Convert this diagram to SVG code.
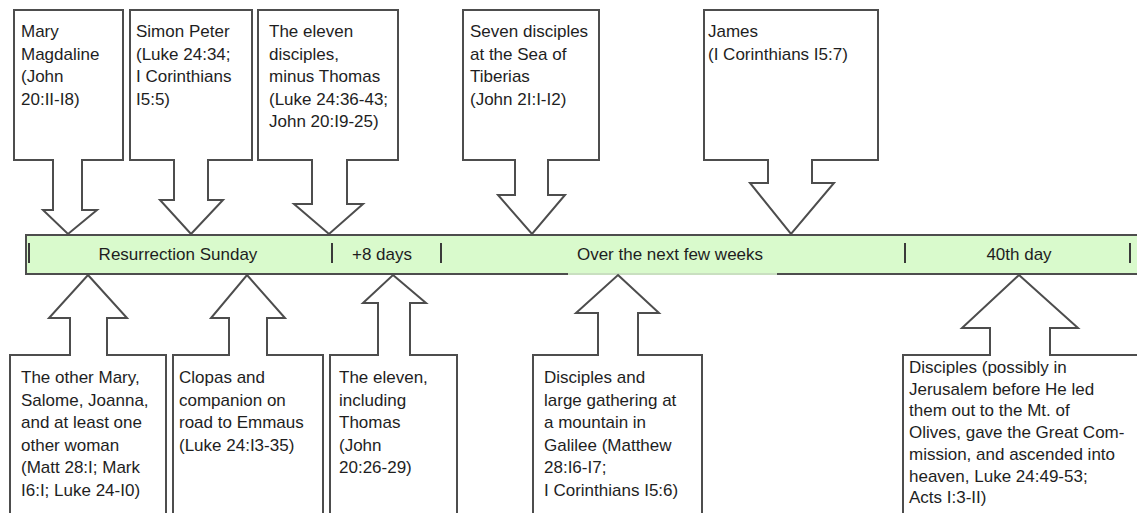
<svg xmlns="http://www.w3.org/2000/svg" width="1137" height="513" viewBox="0 0 1137 513">
<style>
.c{fill:#fff;stroke:#4d4d4d;stroke-width:2;stroke-linejoin:miter}
.t{font-family:"Liberation Sans",Arial,sans-serif;font-size:17px;fill:#1e1e1e}
.bar{fill:#d9facc;stroke:#4d4d4d;stroke-width:2}
.div{stroke:#3a3a3a;stroke-width:2}
</style>
<rect width="1137" height="513" fill="#fff"/>
<g id="timeline">
<rect class="bar" x="26" y="235" width="1120" height="39"/>
<line x1="568" y1="274" x2="777" y2="274" stroke="#c9dfc0" stroke-width="2"/>
<line class="div" x1="29" y1="243" x2="29" y2="263"/>
<line class="div" x1="332" y1="243" x2="332" y2="263"/>
<line class="div" x1="441" y1="243" x2="441" y2="263"/>
<line class="div" x1="905" y1="243" x2="905" y2="263"/>
<line class="div" x1="1130" y1="243" x2="1130" y2="263"/>
<text class="t" x="178" y="260" text-anchor="middle">Resurrection Sunday</text>
<text class="t" x="382" y="260" text-anchor="middle">+8 days</text>
<text class="t" x="670" y="260" text-anchor="middle">Over the next few weeks</text>
<text class="t" x="1019" y="260" text-anchor="middle">40th day</text>
</g>
<g id="connectors">
</g>
<g id="top1">
<path class="c" d="M14,10 H123 V160 H82 V210 H97 L68,234 L43,210 H53 V160 H14 Z"/>
<text class="t" x="21" y="37">Mary</text>
<text class="t" x="21" y="59.5">Magdaline</text>
<text class="t" x="21" y="82">(John</text>
<text class="t" x="21" y="104.5">20:II-I8)</text>
</g>
<g id="top2">
<path class="c" d="M130,10 H252 V160 H208 V200 H223 L191,234 L160,200 H174 V160 H130 Z"/>
<text class="t" x="136" y="37">Simon Peter</text>
<text class="t" x="136" y="59.5">(Luke 24:34;</text>
<text class="t" x="136" y="82">I Corinthians</text>
<text class="t" x="136" y="104.5">I5:5)</text>
</g>
<g id="top3">
<path class="c" d="M258,10 H398 V160 H347 V204 H363 L329,234 L294,204 H312 V160 H258 Z"/>
<text class="t" x="269" y="37">The eleven</text>
<text class="t" x="269" y="59.5">disciples,</text>
<text class="t" x="269" y="82">minus Thomas</text>
<text class="t" x="269" y="104.5">(Luke 24:36-43;</text>
<text class="t" x="269" y="127">John 20:I9-25)</text>
</g>
<g id="top4">
<path class="c" d="M463,10 H599 V160 H548 V195 H565 L532,234 L498,195 H515 V160 H463 Z"/>
<text class="t" x="470" y="37">Seven disciples</text>
<text class="t" x="470" y="59.5">at the Sea of</text>
<text class="t" x="470" y="82">Tiberias</text>
<text class="t" x="470" y="104.5">(John 2I:I-I2)</text>
</g>
<g id="top5">
<path class="c" d="M704,10 H878 V160 H812 V183 H834 L791,234 L750,183 H768 V160 H704 Z"/>
<text class="t" x="708" y="37">James</text>
<text class="t" x="708" y="59.5">(I Corinthians I5:7)</text>
</g>
<g id="bottom1">
<path class="c" d="M88,275 L127,318 H107 V355 H166 V516 H10 V355 H70 V318 H49 Z"/>
<text class="t" x="21" y="383">The other Mary,</text>
<text class="t" x="21" y="405.6">Salome, Joanna,</text>
<text class="t" x="21" y="428.2">and at least one</text>
<text class="t" x="21" y="450.8">other woman</text>
<text class="t" x="21" y="473.4">(Matt 28:I; Mark</text>
<text class="t" x="21" y="496">I6:I; Luke 24-I0)</text>
</g>
<g id="bottom2">
<path class="c" d="M247,275 L285,318 H267 V355 H323 V516 H173 V355 H229 V318 H211 Z"/>
<text class="t" x="179" y="383">Clopas and</text>
<text class="t" x="179" y="405.6">companion on</text>
<text class="t" x="179" y="428.2">road to Emmaus</text>
<text class="t" x="179" y="450.8">(Luke 24:I3-35)</text>
</g>
<g id="bottom3">
<path class="c" d="M393,275 L426,303 H410 V355 H457 V516 H330 V355 H378 V303 H363 Z"/>
<text class="t" x="339" y="383">The eleven,</text>
<text class="t" x="339" y="405.6">including</text>
<text class="t" x="339" y="428.2">Thomas</text>
<text class="t" x="339" y="450.8">(John</text>
<text class="t" x="339" y="473.4">20:26-29)</text>
</g>
<g id="bottom4">
<path class="c" d="M618,275 L659,313 H638 V355 H702 V516 H533 V355 H598 V313 H576 Z"/>
<text class="t" x="544" y="383">Disciples and</text>
<text class="t" x="544" y="405.6">large gathering at</text>
<text class="t" x="544" y="428.2">a mountain in</text>
<text class="t" x="544" y="450.8">Galilee (Matthew</text>
<text class="t" x="544" y="473.4">28:I6-I7;</text>
<text class="t" x="544" y="496">I Corinthians I5:6)</text>
</g>
<g id="bottom5">
<path class="c" d="M1019,275 L1078,328 H1050 V355 H1145 V516 H903 V355 H990 V328 H962 Z"/>
<text class="t" x="909" y="373">Disciples (possibly in</text>
<text class="t" x="909" y="394.7">Jerusalem before He led</text>
<text class="t" x="909" y="416.4">them out to the Mt. of</text>
<text class="t" x="909" y="438.1">Olives, gave the Great Com-</text>
<text class="t" x="909" y="459.8">mission, and ascended into</text>
<text class="t" x="909" y="481.5">heaven, Luke 24:49-53;</text>
<text class="t" x="909" y="503.2">Acts I:3-II)</text>
</g>
</svg>
